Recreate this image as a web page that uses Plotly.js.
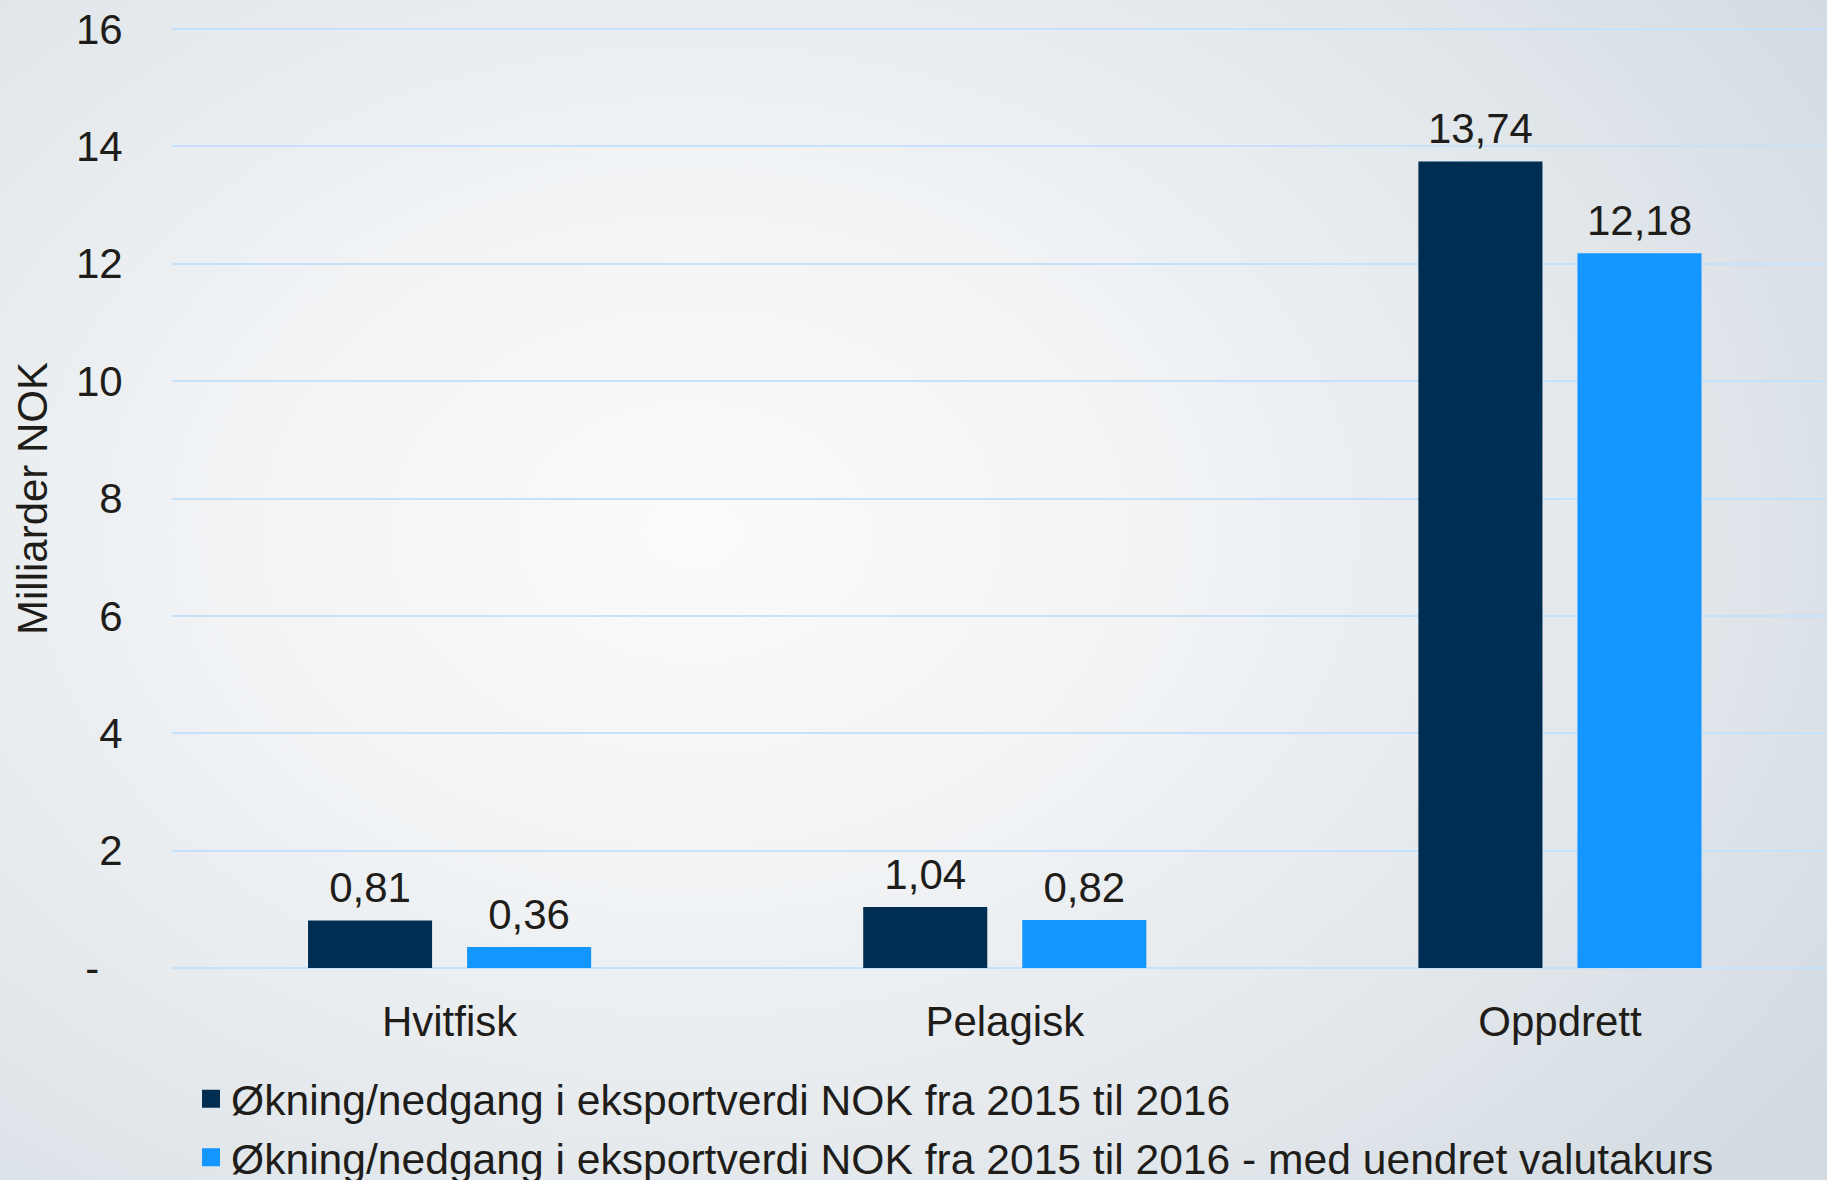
<!DOCTYPE html>
<html>
<head>
<meta charset="utf-8">
<script src="https://cdn.plot.ly/plotly-3.0.1.min.js"></script>
<style>
  html, body { margin: 0; padding: 0; }
  body {
    width: 1827px; height: 1180px; overflow: hidden;
    background: radial-gradient(ellipse 75% 85% at 38% 45%, #fafbfc 0%, #f1f3f5 35%, #e2e7eb 70%, #d2dbe2 100%);
  }
  #chart { width: 1827px; height: 1180px; }
</style>
</head>
<body>
<div id="chart"></div>
<script>
const categories = ['Hvitfisk', 'Pelagisk', 'Oppdrett'];
const seriesNames = [
  'Økning/nedgang i eksportverdi NOK fra 2015 til 2016',
  'Økning/nedgang i eksportverdi NOK fra 2015 til 2016 - med uendret valutakurs'
];
const valuesNok = [0.81, 1.04, 13.74];
const valuesFixedRate = [0.36, 0.82, 12.18];
const seriesColors = ['#002E53', '#1396FF'];
const yTickVals = [0, 2, 4, 6, 8, 10, 12, 14, 16];
const yTickText = ['-\u00a0\u00a0', '2', '4', '6', '8', '10', '12', '14', '16'];
const yTitle = 'Milliarder NOK';

const textColor = '#1f1d1a';
const fontFamily = '"Liberation Sans", Arial, sans-serif';
const fs = 42;

const seriesValues = [valuesNok, valuesFixedRate];
const traces = [];
// bars
seriesValues.forEach((vals, i) => {
  traces.push({
    type: 'bar',
    x: categories,
    y: vals,
    name: seriesNames[i],
    showlegend: false,
    marker: { color: seriesColors[i] },
    hoverinfo: 'skip'
  });
});
// value labels, grouped to sit over their bars
seriesValues.forEach((vals, i) => {
  traces.push({
    type: 'scatter',
    mode: 'markers+text',
    x: categories,
    y: vals,
    name: seriesNames[i] + ' (etikett)',
    showlegend: false,
    marker: { size: 11, color: 'rgba(0,0,0,0)' },
    texttemplate: '%{y:.2f}',
    textposition: 'top center',
    textfont: { size: fs, color: textColor, family: fontFamily },
    cliponaxis: false,
    hoverinfo: 'skip'
  });
});
// legend entries (larger square swatches)
seriesValues.forEach((vals, i) => {
  traces.push({
    type: 'scatter',
    mode: 'markers',
    x: [null],
    y: [null],
    xaxis: 'x2',
    yaxis: 'y2',
    name: seriesNames[i],
    showlegend: true,
    marker: { symbol: 'square', size: 16, color: seriesColors[i], line: { width: 2, color: seriesColors[i] } }
  });
});

const layout = {
  width: 1827,
  height: 1180,
  paper_bgcolor: 'rgba(0,0,0,0)',
  plot_bgcolor: 'rgba(0,0,0,0)',
  separators: ', ',
  font: { family: fontFamily, size: fs, color: textColor },
  margin: { l: 172, r: 0, t: 26, b: 209, pad: 0, autoexpand: false },
  barmode: 'group',
  bargap: 0.427,
  bargroupgap: 0.22,
  scattermode: 'group',
  scattergap: 0.427,
  showlegend: true,
  legend: {
    orientation: 'v',
    x: 0.0115,
    xanchor: 'left',
    y: -0.0990,
    yanchor: 'top',
    font: { size: 42.6, color: textColor, family: fontFamily },
    bgcolor: 'rgba(0,0,0,0)',
    itemsizing: 'trace',
    tracegroupgap: 0
  },
  xaxis: {
    type: 'category',
    range: [-0.5, 2.481],
    showgrid: false,
    showline: false,
    zeroline: false,
    ticks: 'outside',
    ticklen: 14,
    tickcolor: 'rgba(0,0,0,0)',
    tickfont: { size: fs, color: textColor, family: fontFamily },
    automargin: false
  },
  xaxis2: { overlaying: 'x', visible: false, automargin: false },
  yaxis2: { overlaying: 'y', visible: false, automargin: false },
  yaxis: {
    range: [-0.05, 16.05],
    tickvals: yTickVals,
    ticktext: yTickText,
    showgrid: true,
    gridcolor: '#c6e2fa',
    gridwidth: 2,
    zeroline: true,
    zerolinecolor: '#c6e2fa',
    zerolinewidth: 2,
    showline: false,
    ticks: 'outside',
    ticklen: 40,
    tickcolor: 'rgba(0,0,0,0)',
    tickfont: { size: fs, color: textColor, family: fontFamily },
    automargin: false,
    title: { text: yTitle, font: { size: fs, color: textColor, family: fontFamily }, standoff: 15 }
  }
};

Plotly.newPlot('chart', traces, layout, { displayModeBar: false, staticPlot: true });
</script>
</body>
</html>
